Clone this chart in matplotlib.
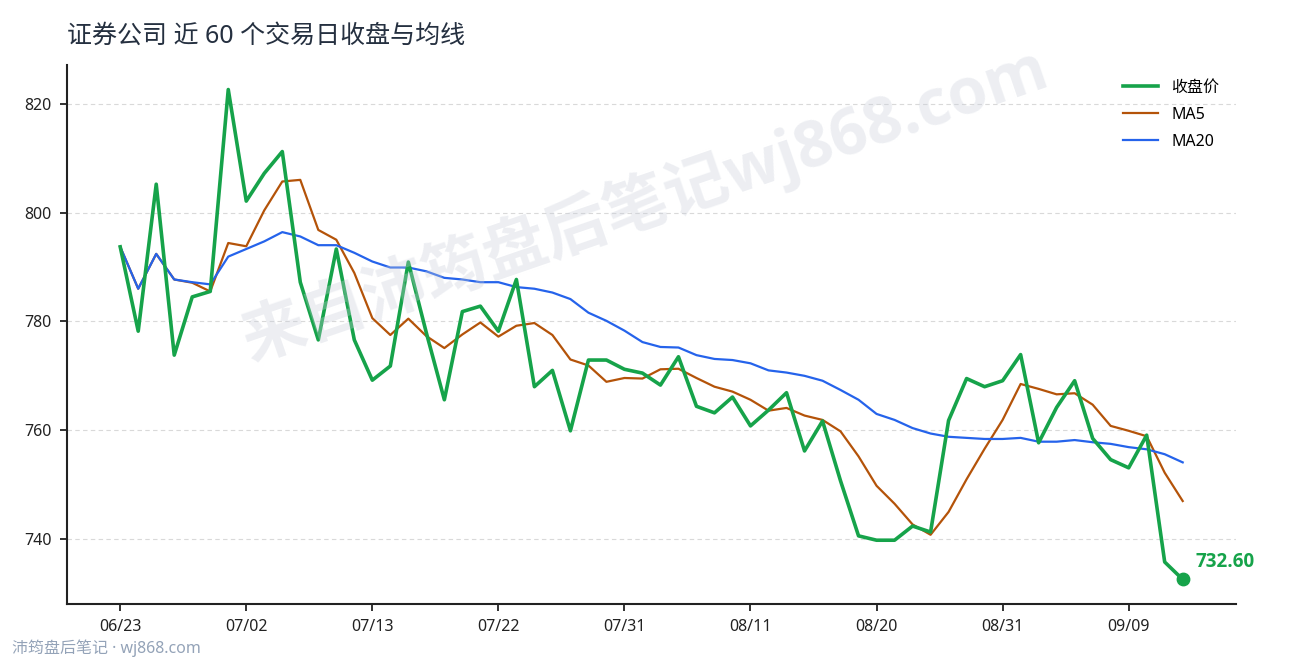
import numpy as np
import matplotlib
matplotlib.use("Agg")
import matplotlib.pyplot as plt

plt.rcParams['font.family'] = ['Noto Sans', 'Noto Sans CJK SC', 'DejaVu Sans']

# 收盘价 (60 个交易日)
close = [793.7, 778.2, 805.2, 773.8, 784.5, 785.5, 822.6, 802.1, 807.2, 811.2,
         787.2, 776.6, 793.3, 776.6, 769.2, 771.8, 790.9, 777.9, 765.6, 781.8,
         782.8, 778.2, 787.7, 768.0, 771.0, 759.9, 772.9, 772.9, 771.2, 770.5,
         768.3, 773.5, 764.4, 763.2, 766.1, 760.8, 763.7, 766.9, 756.2, 761.7,
         750.7, 740.6, 739.8, 739.8, 742.4, 741.3, 761.8, 769.5, 768.0, 769.1,
         773.9, 757.7, 764.2, 769.1, 758.5, 754.6, 753.1, 759.1, 735.8, 732.6]

ma5 = [793.7, 786.0, 792.4, 787.7, 787.1, 785.5, 794.4, 793.8, 800.4, 805.7,
       806.0, 796.8, 795.0, 788.9, 780.6, 777.5, 780.5, 777.3, 775.1, 777.6,
       779.8, 777.2, 779.2, 779.7, 777.5, 773.0, 771.9, 768.9, 769.6, 769.5,
       771.2, 771.3, 769.6, 768.0, 767.1, 765.6, 763.6, 764.1, 762.7, 761.9,
       759.8, 755.2, 749.8, 746.5, 742.7, 740.8, 745.0, 751.0, 756.6, 761.9,
       768.5, 767.6, 766.6, 766.8, 764.7, 760.8, 759.9, 758.9, 752.2, 747.0]

ma20 = [793.7, 786.0, 792.4, 787.7, 787.2, 786.8, 791.9, 793.3, 794.7, 796.4,
        795.6, 794.0, 794.0, 792.6, 791.0, 789.9, 789.9, 789.2, 788.0, 787.7,
        787.2, 787.2, 786.3, 786.0, 785.3, 784.1, 781.6, 780.1, 778.3, 776.2,
        775.3, 775.2, 773.8, 773.1, 772.9, 772.3, 771.0, 770.6, 770.0, 769.1,
        767.4, 765.6, 763.0, 761.9, 760.4, 759.4, 758.8, 758.6, 758.4, 758.4,
        758.6, 757.9, 757.9, 758.2, 757.8, 757.5, 756.9, 756.5, 755.6, 754.1]

tick_pos = [0, 7, 14, 21, 28, 35, 42, 49, 56]
tick_labels = ['06/23', '07/02', '07/13', '07/22', '07/31', '08/11', '08/20', '08/31', '09/09']

x = np.arange(len(close))

fig = plt.figure(figsize=(12.9, 6.6), dpi=100)
ax = fig.add_axes([0.052, 0.085, 0.906, 0.8165])

ax.grid(axis='y', color='#d9d9d9', linestyle='--', linewidth=0.8, dashes=(4, 3))
ax.set_axisbelow(True)

ax.plot(x, close, color='#16a34a', linewidth=2.6, label='收盘价', zorder=3)
ax.plot(x, ma5, color='#b45309', linewidth=1.6, label='MA5', zorder=2)
ax.plot(x, ma20, color='#2563eb', linewidth=1.6, label='MA20', zorder=2)

bold_fam = ['Open Sans', 'Noto Sans CJK SC', 'DejaVu Sans']

ax.scatter([x[-1]], [close[-1]], s=80, color='#16a34a', zorder=4)
ax.annotate(f'{close[-1]:.2f}', (x[-1], close[-1]), xytext=(9, 5),
            textcoords='offset points', color='#16a34a', fontsize=13.5,
            fontweight='bold', family=bold_fam, va='bottom', ha='left')

ax.set_xticks(tick_pos)
ax.set_xticklabels(tick_labels)
ax.set_yticks([740, 760, 780, 800, 820])
ax.tick_params(labelsize=11.5, length=5, width=1.3, colors='#222222', pad=6)

for s in ['top', 'right']:
    ax.spines[s].set_visible(False)
for s in ['left', 'bottom']:
    ax.spines[s].set_linewidth(1.5)
    ax.spines[s].set_color('#222222')

leg = ax.legend(loc='upper right', frameon=False, fontsize=11.5,
                handlelength=2.2, bbox_to_anchor=(0.998, 1.0), labelspacing=0.7)

fig.text(0.052, 0.945, '证券公司 近 60 个交易日收盘与均线', fontsize=18,
         color='#253040', ha='left', va='center')

fig.text(0.5, 0.69, '来自沛筠盘后笔记wj868.com', fontsize=46, fontweight='bold',
         family=bold_fam, color='#c8cdd9', alpha=0.33, rotation=19,
         ha='center', va='center', zorder=0)

fig.text(0.009, 0.018, '沛筠盘后笔记 · wj868.com', fontsize=11.5, color='#94a3b8',
         ha='left', va='center')

fig.savefig('out.png', dpi=100)
